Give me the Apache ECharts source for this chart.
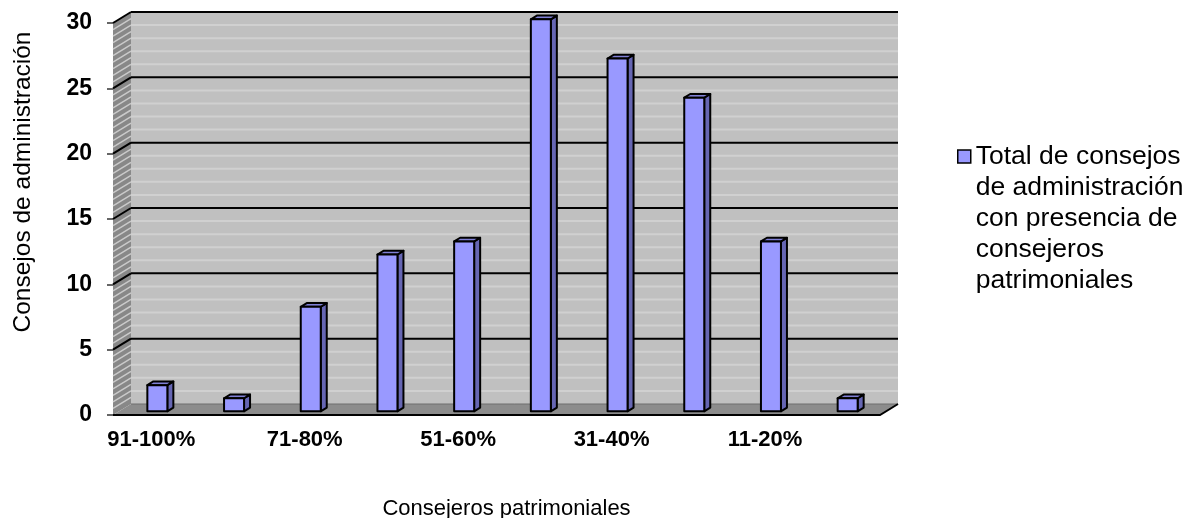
<!DOCTYPE html>
<html>
<head>
<meta charset="utf-8">
<script src="https://cdn.jsdelivr.net/npm/echarts@6/dist/echarts.min.js"></script>
<style>
  html, body { margin: 0; padding: 0; background: #ffffff; }
  #chart { width: 1193px; height: 518px; }
</style>
</head>
<body>
<div id="chart"></div>
<script>
// Porcentaje de consejeros patrimoniales en el consejo
const categories = ['91-100%', '81-90%', '71-80%', '61-70%', '51-60%', '41-50%', '31-40%', '21-30%', '11-20%', '0-10%'];
// Número de consejos de administración en cada tramo
const totals = [2, 1, 8, 12, 13, 30, 27, 24, 13, 1];
const seriesName = 'Total de consejos de administración con presencia de consejeros patrimoniales';
const legendLines = ['Total de consejos', 'de administración', 'con presencia de', 'consejeros', 'patrimoniales'];
const yMax = 30;
const yStep = 5;

const FONT = '"Liberation Sans", Arial, sans-serif';
const DEPTH = [18, -11];      // wall/floor depth offset
const BAR_FRONT = [6, -3.7];  // bar front face offset into depth
const BAR_DEPTH = [6, -3.7];  // bar thickness
const BAR_W = 20;
const LEGEND_LINE = 31;

function renderWalls(params, api) {
  const cs = params.coordSys;
  const L = cs.x, R = cs.x + cs.width;
  const dx = DEPTH[0], dy = DEPTH[1];
  const y0 = api.coord([0, 0])[1];
  const yTop = api.coord([0, yMax])[1];
  const kids = [];
  // back wall
  kids.push({ type: 'rect', shape: { x: L + dx, y: yTop + dy, width: R - L, height: y0 - yTop },
    style: { fill: '#c0c0c0' } });
  // minor grid on back wall
  for (let v = 1; v < yMax; v++) {
    if (v % yStep === 0) continue;
    const y = api.coord([0, v])[1] + dy;
    kids.push({ type: 'line', shape: { x1: L + dx, y1: y, x2: R + dx, y2: y },
      style: { stroke: '#d0d0d0', lineWidth: 2 } });
  }
  // side wall
  kids.push({ type: 'polygon', shape: { points: [[L, y0], [L, yTop], [L + dx, yTop + dy], [L + dx, y0 + dy]] },
    style: { fill: '#888888' } });
  for (let v = 0.5; v < yMax; v += 0.5) {
    if (v % yStep === 0) continue;
    const y = api.coord([0, v])[1];
    kids.push({ type: 'line', shape: { x1: L, y1: y, x2: L + dx, y2: y + dy },
      style: { stroke: '#cacaca', lineWidth: 1.5 } });
  }
  // major grid on back and side walls
  for (let v = yStep; v <= yMax; v += yStep) {
    const y = api.coord([0, v])[1];
    kids.push({ type: 'line', shape: { x1: L + dx, y1: y + dy, x2: R + dx, y2: y + dy },
      style: { stroke: '#000', lineWidth: 2 } });
    kids.push({ type: 'line', shape: { x1: L, y1: y, x2: L + dx, y2: y + dy },
      style: { stroke: '#000', lineWidth: 2 } });
  }
  // floor
  kids.push({ type: 'polygon', shape: { points: [[L, y0], [R, y0], [R + dx, y0 + dy], [L + dx, y0 + dy]] },
    style: { fill: '#8c8c8c' } });
  kids.push({ type: 'line', shape: { x1: L + dx, y1: y0 + dy, x2: R + dx, y2: y0 + dy },
    style: { stroke: '#6e6e6e', lineWidth: 1 } });
  kids.push({ type: 'polyline', shape: { points: [[L, y0], [R, y0], [R + dx, y0 + dy]] },
    style: { stroke: '#000', lineWidth: 2, fill: null } });
  return { type: 'group', children: kids };
}

function renderBar(params, api) {
  const i = api.value(0), v = api.value(1);
  const base = api.coord([i, 0]);
  const top = api.coord([i, v]);
  const x0 = base[0] - BAR_W / 2 + BAR_FRONT[0];
  const x1 = x0 + BAR_W;
  const yb = base[1] + BAR_FRONT[1];
  const yt = top[1] + BAR_FRONT[1];
  const dx = BAR_DEPTH[0], dy = BAR_DEPTH[1];
  const edge = { stroke: '#000', lineWidth: 2, lineJoin: 'round' };
  return {
    type: 'group',
    children: [
      { type: 'polygon', shape: { points: [[x1, yb], [x1 + dx, yb + dy], [x1 + dx, yt + dy], [x1, yt]] },
        style: Object.assign({ fill: '#6666b3' }, edge) },
      { type: 'polygon', shape: { points: [[x0, yt], [x0 + dx, yt + dy], [x1 + dx, yt + dy], [x1, yt]] },
        style: Object.assign({ fill: '#8080d6' }, edge) },
      { type: 'rect', shape: { x: x0, y: yt, width: BAR_W, height: yb - yt },
        style: Object.assign({ fill: api.visual('color') }, edge) }
    ]
  };
}

// Legend text: a spacer line on top keeps the swatch beside the first line
const legendSpacer = LEGEND_LINE * (legendLines.length - 1);

const chart = echarts.init(document.getElementById('chart'), null, { renderer: 'canvas' });
chart.setOption({
  backgroundColor: '#ffffff',
  animation: false,
  textStyle: { fontFamily: FONT },
  grid: { left: 113, right: 313, top: 23, bottom: 103, outerBoundsMode: 'none' },
  legend: {
    data: [seriesName],
    left: 957,
    top: 78,
    padding: 0,
    orient: 'vertical',
    icon: 'rect',
    itemWidth: 13,
    itemHeight: 13,
    itemStyle: { borderColor: '#000', borderWidth: 1.5 },
    formatter: () => '{sp| }\n' + legendLines.map(s => '{t|' + s + '}').join('\n'),
    textStyle: {
      fontFamily: FONT, fontSize: 26.5, color: '#000',
      rich: {
        sp: { fontSize: 2, lineHeight: legendSpacer },
        t: { fontFamily: FONT, fontSize: 26.5, lineHeight: LEGEND_LINE, color: '#000' }
      }
    }
  },
  xAxis: {
    type: 'category',
    data: categories,
    boundaryGap: true,
    axisLine: { show: false },
    axisTick: { show: false },
    splitLine: { show: false },
    axisLabel: { interval: 1, fontFamily: FONT, fontSize: 22, fontWeight: 'bold', color: '#000', margin: 14 },
    name: 'Consejeros patrimoniales',
    nameLocation: 'middle',
    nameGap: 83,
    nameTextStyle: { fontFamily: FONT, fontSize: 22, color: '#000', padding: [0, 0, 0, 20] }
  },
  yAxis: {
    type: 'value',
    min: 0,
    max: yMax,
    interval: yStep,
    axisLine: { show: false },
    axisTick: { show: true, length: 6, lineStyle: { color: '#666', width: 2 } },
    splitLine: { show: false },
    axisLabel: { fontFamily: FONT, fontSize: 23, fontWeight: 'bold', color: '#000', margin: 21 },
    name: 'Consejos de administración',
    nameLocation: 'middle',
    nameGap: 77,
    nameTextStyle: { fontFamily: FONT, fontSize: 24.5, color: '#000', padding: [0, 0, 0, 74] }
  },
  series: [
    {
      name: 'walls',
      type: 'custom',
      silent: true,
      z: 1,
      renderItem: renderWalls,
      data: [[0, 0]],
      encode: { x: 0, y: 1 }
    },
    {
      name: seriesName,
      type: 'custom',
      z: 2,
      itemStyle: { color: '#9999ff' },
      renderItem: renderBar,
      data: totals.map((v, i) => [i, v]),
      encode: { x: 0, y: 1 }
    }
  ]
});
</script>
</body>
</html>
